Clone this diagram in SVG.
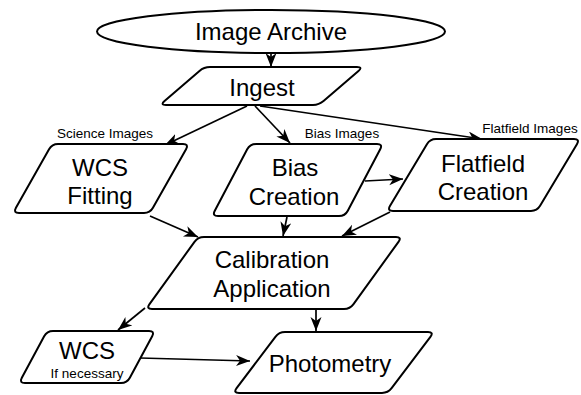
<svg xmlns="http://www.w3.org/2000/svg" width="581" height="395" viewBox="0 0 581 395">
<style>
.box{fill:#fff;stroke:#000;stroke-width:2}
.t{font-family:"Liberation Sans",Arial,sans-serif;font-size:24px;text-anchor:middle;fill:#000}
.s{font-family:"Liberation Sans",Arial,sans-serif;font-size:13.5px;text-anchor:middle;fill:#000}
.c{fill:none;stroke:#000;stroke-width:1.7;marker-end:url(#ah)}
</style>
<defs>
<marker id="ah" markerUnits="userSpaceOnUse" markerWidth="16" markerHeight="13" refX="14" refY="5.5" orient="auto">
<path d="M0,0 L14,5.5 L0,11 L4,5.5 Z" fill="#000"/>
</marker>
</defs>
<rect width="581" height="395" fill="#fff"/>
<g id="connectors">
<line class="c" x1="271" y1="53" x2="271" y2="67"/>
<line class="c" x1="247" y1="106" x2="165" y2="145"/>
<line class="c" x1="255" y1="106" x2="290" y2="143"/>
<line class="c" x1="260" y1="106" x2="482" y2="139"/>
<line class="c" x1="365" y1="181" x2="403" y2="179"/>
<line class="c" x1="150" y1="216" x2="198" y2="237"/>
<line class="c" x1="287" y1="217" x2="283" y2="236"/>
<line class="c" x1="390" y1="212" x2="342" y2="236"/>
<line class="c" x1="145" y1="308" x2="118" y2="330"/>
<line class="c" x1="316" y1="309" x2="316" y2="331"/>
<line class="c" x1="140" y1="358" x2="250" y2="361"/>
</g>
<g id="labels">
<text class="s" x="105" y="138">Science Images</text>
<text class="s" x="342" y="138">Bias Images</text>
<text class="s" x="530" y="133">Flatfield Images</text>
</g>
<g id="image-archive">
<ellipse class="box" cx="271" cy="31.5" rx="174" ry="21.5"/>
<text class="t" x="271" y="40">Image Archive</text>
</g>
<g id="ingest">
<path class="box" d="M210,67 L357,67 Q363,67 358.46,70.92 L323.54,101.08 Q319,105 313,105 L166,105 Q160,105 164.54,101.08 L199.46,70.92 Q204,67 210,67 Z"/>
<text class="t" x="262" y="95.5">Ingest</text>
</g>
<g id="wcs-fitting">
<path class="box" d="M58,144 L183,144 Q189,144 186.05,149.22 L152.95,207.78 Q150,213 144,213 L19,213 Q13,213 15.95,207.78 L49.05,149.22 Q52,144 58,144 Z"/>
<text class="t" x="100" y="175.5">WCS</text>
<text class="t" x="100" y="203.5">Fitting</text>
</g>
<g id="bias-creation">
<path class="box" d="M256,144 L377,144 Q383,144 380.2,149.31 L347.8,210.69 Q345,216 339,216 L218,216 Q212,216 214.8,210.69 L247.2,149.31 Q250,144 256,144 Z"/>
<text class="t" x="295" y="175.5">Bias</text>
<text class="t" x="294" y="204.5">Creation</text>
</g>
<g id="flatfield-creation">
<path class="box" d="M436,139 L574,139 Q580,139 576.92,144.15 L540.08,205.85 Q537,211 531,211 L393,211 Q387,211 390.08,205.85 L426.92,144.15 Q430,139 436,139 Z"/>
<text class="t" x="483" y="171.5">Flatfield</text>
<text class="t" x="483" y="199.5">Creation</text>
</g>
<g id="calibration-application">
<path class="box" d="M204,237 L396,237 Q402,237 398.49,241.86 L353.51,304.14 Q350,309 344,309 L152,309 Q146,309 149.51,304.14 L194.49,241.86 Q198,237 204,237 Z"/>
<text class="t" x="272" y="267.5">Calibration</text>
<text class="t" x="272" y="296.5">Application</text>
</g>
<g id="wcs">
<path class="box" d="M53,331 L149,331 Q155,331 152.16,336.28 L129.84,377.72 Q127,383 121,383 L25,383 Q19,383 21.84,377.72 L44.16,336.28 Q47,331 53,331 Z"/>
<text class="t" x="87" y="358.5">WCS</text>
<text class="s" x="87" y="377.5">If necessary</text>
</g>
<g id="photometry">
<path class="box" d="M285,332 L428,332 Q434,332 430.39,336.79 L391.61,388.21 Q388,393 382,393 L239,393 Q233,393 236.61,388.21 L275.39,336.79 Q279,332 285,332 Z"/>
<text class="t" x="330" y="371.5">Photometry</text>
</g>
</svg>
